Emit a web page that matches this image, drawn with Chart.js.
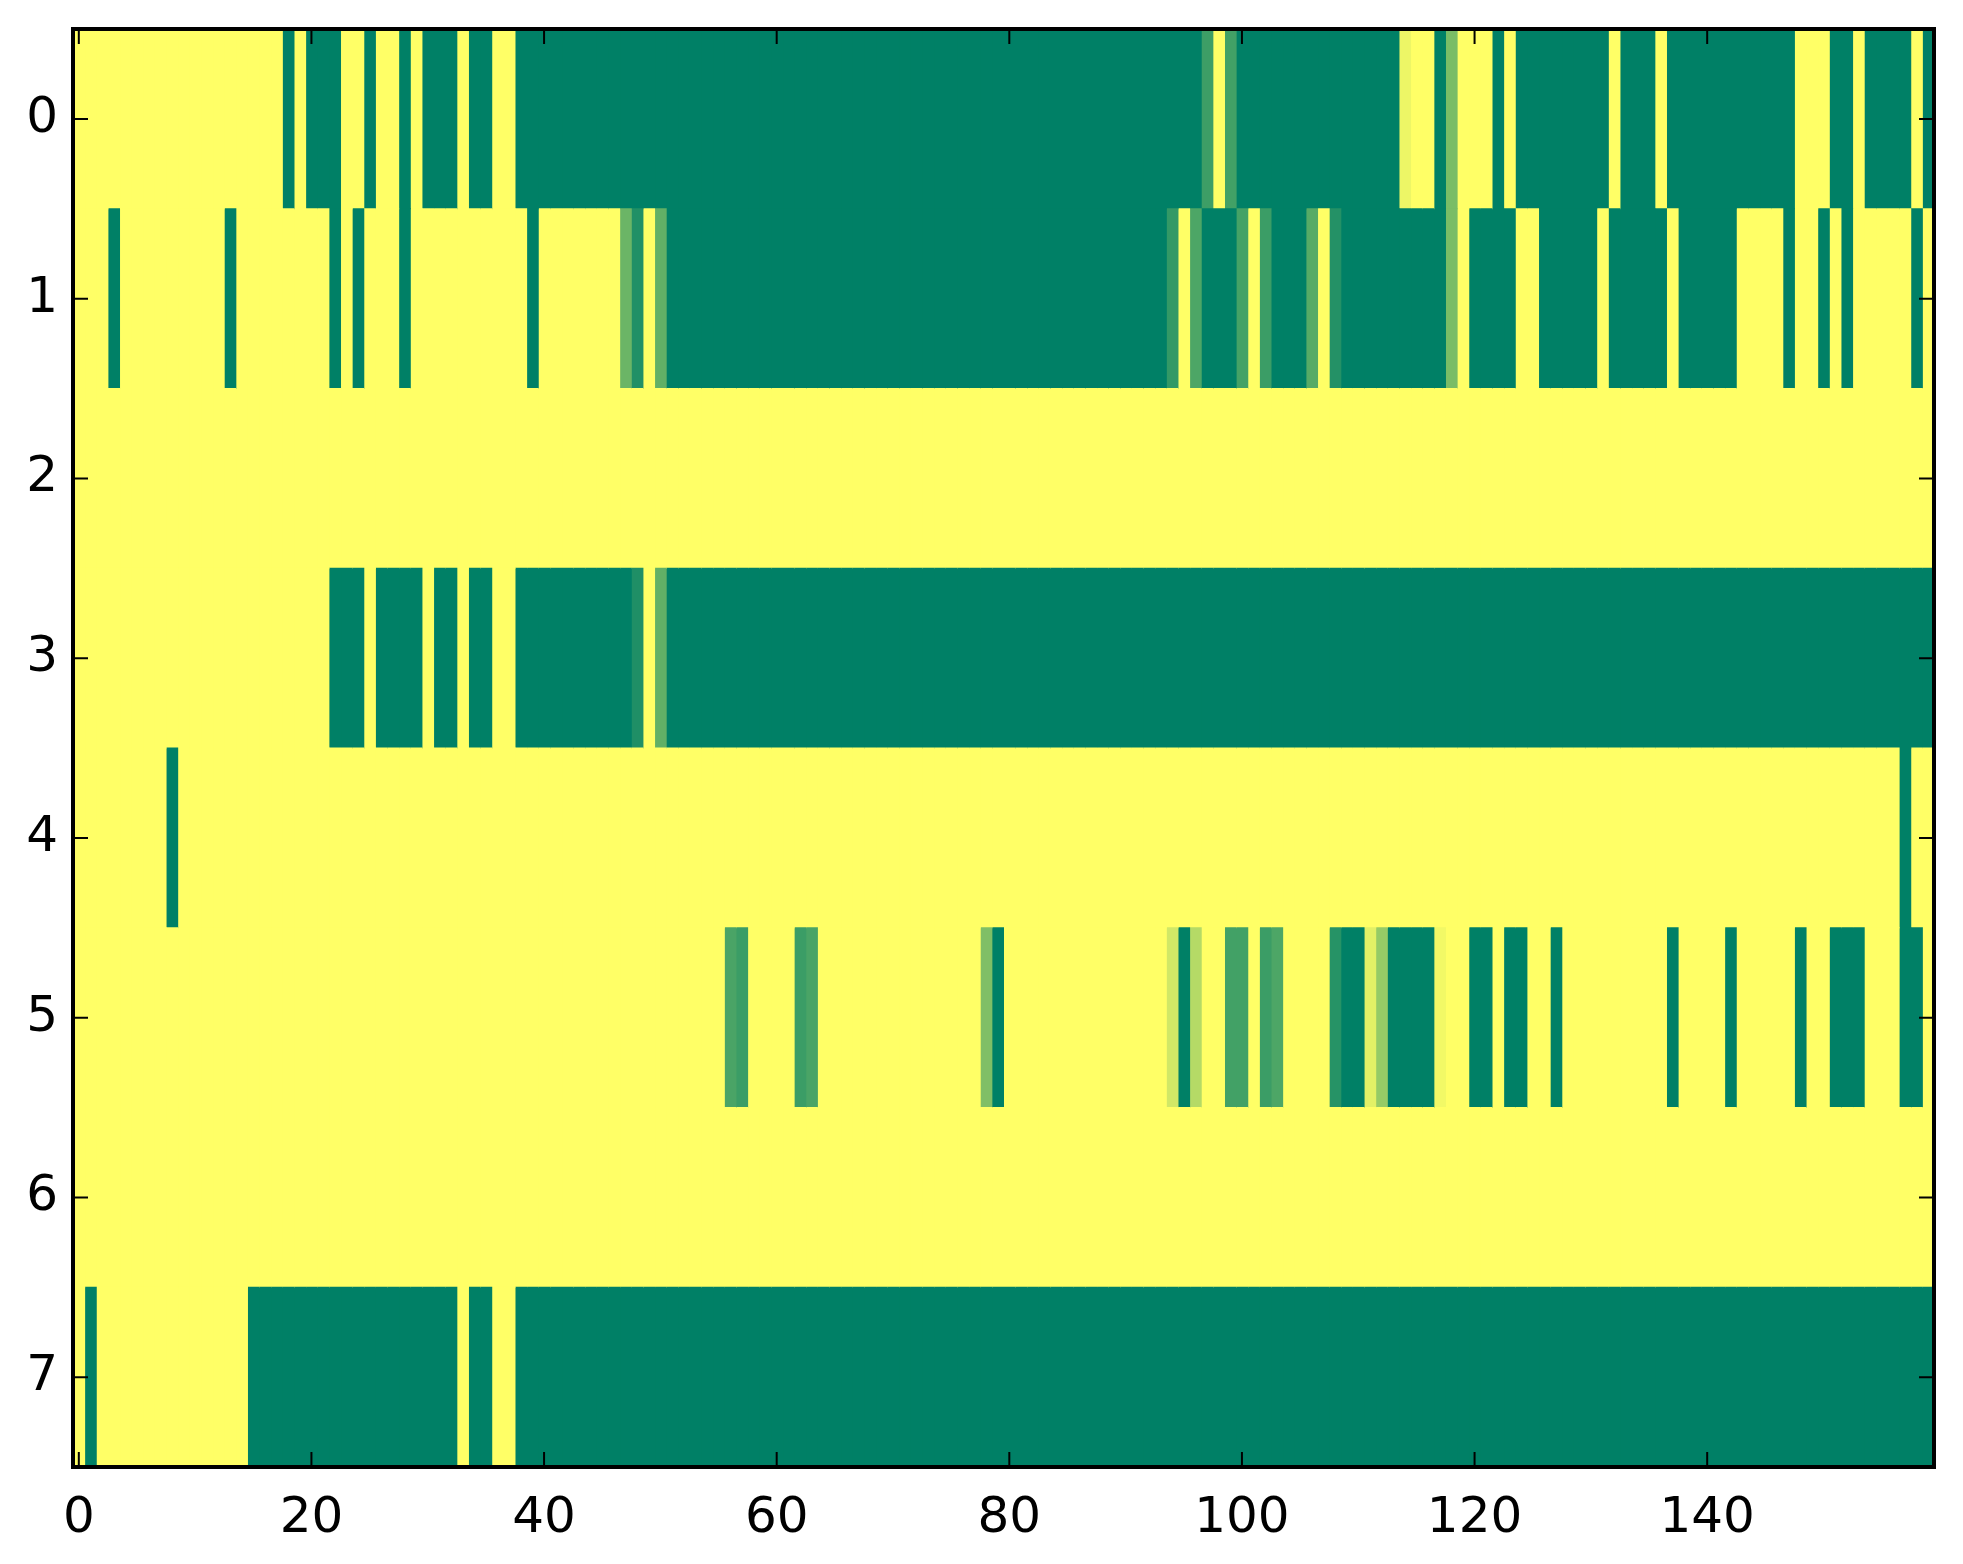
<!DOCTYPE html>
<html>
<head>
<meta charset="utf-8">
<title>Heatmap</title>
<script src="https://cdn.jsdelivr.net/npm/chart.js@4.4.1/dist/chart.umd.min.js"></script>
<style>
  html, body { margin: 0; padding: 0; background: #fff; }
  #wrap { width: 1963px; height: 1564px; }
</style>
</head>
<body>
<div id="wrap"><canvas id="heat" width="1963" height="1564"></canvas></div>
<script>
/* ── DATA: one array per row, 160 cells each (1 = yellow, 0 = green) ── */
const rowLabels = ['0', '1', '2', '3', '4', '5', '6', '7'];
const xTicks    = [0, 20, 40, 60, 80, 100, 120, 140];

const row0 = [
  1,1,1,1,1,1,1,1,1,1,1,1,1,1,1,1,1,1,0,1,
  0,0,0,1,1,0,1,1,0,1,0,0,0,1,0,0,1,1,0,0,
  0,0,0,0,0,0,0,0,0,0,0,0,0,0,0,0,0,0,0,0,
  0,0,0,0,0,0,0,0,0,0,0,0,0,0,0,0,0,0,0,0,
  0,0,0,0,0,0,0,0,0,0,0,0,0,0,0,0,0,0.24,1,0.26,
  0,0,0,0,0,0,0,0,0,0,0,0,0,0,0.93,1,1,0,0.48,1,
  1,1,0,1,0,0,0,0,0,0,0,0,1,0,0,0,1,0,0,0,
  0,0,0,0,0,0,0,0,1,1,1,0,0,1,0,0,0,0,1,0,
];
const row1 = [
  1,1,1,0,1,1,1,1,1,1,1,1,1,0,1,1,1,1,1,1,
  1,1,0,1,0,1,1,1,0,1,1,1,1,1,1,1,1,1,1,0,
  1,1,1,1,1,1,1,0.42,0.13,1,0.38,0,0,0,0,0,0,0,0,0,
  0,0,0,0,0,0,0,0,0,0,0,0,0,0,0,0,0,0,0,0,
  0,0,0,0,0,0,0,0,0,0,0,0,0,0,0.2,1,0.3,0,0,0,
  0.27,1,0.23,0,0,0,0.34,1,0.14,0,0,0,0,0,0,0,0,0,0.48,1,
  0,0,0,0,1,1,0,0,0,0,0,1,0,0,0,0,0,1,0,0,
  0,0,0,1,1,1,1,0,1,1,0,1,0,1,1,1,1,1,0,1,
];
const row2 = [
  1,1,1,1,1,1,1,1,1,1,1,1,1,1,1,1,1,1,1,1,
  1,1,1,1,1,1,1,1,1,1,1,1,1,1,1,1,1,1,1,1,
  1,1,1,1,1,1,1,1,1,1,1,1,1,1,1,1,1,1,1,1,
  1,1,1,1,1,1,1,1,1,1,1,1,1,1,1,1,1,1,1,1,
  1,1,1,1,1,1,1,1,1,1,1,1,1,1,1,1,1,1,1,1,
  1,1,1,1,1,1,1,1,1,1,1,1,1,1,1,1,1,1,1,1,
  1,1,1,1,1,1,1,1,1,1,1,1,1,1,1,1,1,1,1,1,
  1,1,1,1,1,1,1,1,1,1,1,1,1,1,1,1,1,1,1,1,
];
const row3 = [
  1,1,1,1,1,1,1,1,1,1,1,1,1,1,1,1,1,1,1,1,
  1,1,0,0,0,1,0,0,0,0,1,0,0,1,0,0,1,1,0,0,
  0,0,0,0,0,0,0,0,0.12,1,0.38,0,0,0,0,0,0,0,0,0,
  0,0,0,0,0,0,0,0,0,0,0,0,0,0,0,0,0,0,0,0,
  0,0,0,0,0,0,0,0,0,0,0,0,0,0,0,0,0,0,0,0,
  0,0,0,0,0,0,0,0,0,0,0,0,0,0,0,0,0,0,0,0,
  0,0,0,0,0,0,0,0,0,0,0,0,0,0,0,0,0,0,0,0,
  0,0,0,0,0,0,0,0,0,0,0,0,0,0,0,0,0,0,0,0,
];
const row4 = [
  1,1,1,1,1,1,1,1,0,1,1,1,1,1,1,1,1,1,1,1,
  1,1,1,1,1,1,1,1,1,1,1,1,1,1,1,1,1,1,1,1,
  1,1,1,1,1,1,1,1,1,1,1,1,1,1,1,1,1,1,1,1,
  1,1,1,1,1,1,1,1,1,1,1,1,1,1,1,1,1,1,1,1,
  1,1,1,1,1,1,1,1,1,1,1,1,1,1,1,1,1,1,1,1,
  1,1,1,1,1,1,1,1,1,1,1,1,1,1,1,1,1,1,1,1,
  1,1,1,1,1,1,1,1,1,1,1,1,1,1,1,1,1,1,1,1,
  1,1,1,1,1,1,1,1,1,1,1,1,1,1,1,1,1,0,1,1,
];
const row5 = [
  1,1,1,1,1,1,1,1,1,1,1,1,1,1,1,1,1,1,1,1,
  1,1,1,1,1,1,1,1,1,1,1,1,1,1,1,1,1,1,1,1,
  1,1,1,1,1,1,1,1,1,1,1,1,1,1,1,1,0.29,0.23,1,1,
  1,1,0.23,0.29,1,1,1,1,1,1,1,1,1,1,1,1,1,1,0.5,0,
  1,1,1,1,1,1,1,1,1,1,1,1,1,1,0.82,0,0.71,1,1,0.26,
  0.26,1,0.23,0.3,1,1,1,1,0.15,0,0,0.89,0.59,0,0,0,0,0.95,1,1,
  0,0,1,0,0,1,1,0,1,1,1,1,1,1,1,1,1,0,1,1,
  1,1,0,1,1,1,1,1,0,1,1,0,0,0,1,1,1,0,0,1,
];
const row6 = [
  1,1,1,1,1,1,1,1,1,1,1,1,1,1,1,1,1,1,1,1,
  1,1,1,1,1,1,1,1,1,1,1,1,1,1,1,1,1,1,1,1,
  1,1,1,1,1,1,1,1,1,1,1,1,1,1,1,1,1,1,1,1,
  1,1,1,1,1,1,1,1,1,1,1,1,1,1,1,1,1,1,1,1,
  1,1,1,1,1,1,1,1,1,1,1,1,1,1,1,1,1,1,1,1,
  1,1,1,1,1,1,1,1,1,1,1,1,1,1,1,1,1,1,1,1,
  1,1,1,1,1,1,1,1,1,1,1,1,1,1,1,1,1,1,1,1,
  1,1,1,1,1,1,1,1,1,1,1,1,1,1,1,1,1,1,1,1,
];
const row7 = [
  1,0,1,1,1,1,1,1,1,1,1,1,1,1,1,0,0,0,0,0,
  0,0,0,0,0,0,0,0,0,0,0,0,0,1,0,0,1,1,0,0,
  0,0,0,0,0,0,0,0,0,0,0,0,0,0,0,0,0,0,0,0,
  0,0,0,0,0,0,0,0,0,0,0,0,0,0,0,0,0,0,0,0,
  0,0,0,0,0,0,0,0,0,0,0,0,0,0,0,0,0,0,0,0,
  0,0,0,0,0,0,0,0,0,0,0,0,0,0,0,0,0,0,0,0,
  0,0,0,0,0,0,0,0,0,0,0,0,0,0,0,0,0,0,0,0,
  0,0,0,0,0,0,0,0,0,0,0,0,0,0,0,0,0,0,0,0,
];

const rows  = [row0, row1, row2, row3, row4, row5, row6, row7];
const nCols = row0.length;

/* matplotlib "summer" colormap: (t, 0.5 + t/2, 0.4) */
function summer(t) {
  const r = Math.round(255 * t);
  const g = Math.round(255 * (0.5 + 0.5 * t));
  return `rgb(${r},${g},102)`;
}

// One floating-bar dataset per column; each row is one cell of that column
const datasets = [];
for (let c = 0; c < nCols; c++) {
  datasets.push({
    data: rows.map(() => [c - 0.5, c + 0.5]),
    backgroundColor: rows.map(r => summer(r[c])),
  });
}

/* ── frame + inward ticks on all four sides (matplotlib classic look) ── */
const framePlugin = {
  id: 'frame',
  afterDatasetsDraw(chart) {
    const { ctx, chartArea: a, scales: { x, y } } = chart;
    const len = 15;
    ctx.save();
    ctx.strokeStyle = '#000';
    ctx.lineWidth = 2;
    ctx.beginPath();
    xTicks.forEach(v => {
      const px = x.getPixelForValue(v);
      ctx.moveTo(px, a.bottom); ctx.lineTo(px, a.bottom - len);
      ctx.moveTo(px, a.top);    ctx.lineTo(px, a.top + len);
    });
    rowLabels.forEach((_, i) => {
      const py = y.getPixelForValue(i);
      ctx.moveTo(a.left, py);  ctx.lineTo(a.left + len, py);
      ctx.moveTo(a.right, py); ctx.lineTo(a.right - len, py);
    });
    ctx.stroke();
    ctx.lineWidth = 4;
    ctx.strokeRect(a.left, a.top, a.right - a.left, a.bottom - a.top);
    ctx.restore();
  },
};

// Fixed axis boxes so the plot area lands where the reference has it
function fitBox(ax, size) {
  if (ax.isHorizontal()) ax.height = size; else ax.width = size;
  ax.paddingTop = ax.paddingBottom = ax.paddingLeft = ax.paddingRight = 0;
}

Chart.defaults.font.family = "'DejaVu Sans', sans-serif";

new Chart(document.getElementById('heat'), {
  type: 'bar',
  data: { labels: rowLabels, datasets },
  options: {
    indexAxis: 'y',
    responsive: false,
    animation: false,
    devicePixelRatio: 1,
    layout: { padding: { top: 29, right: 29, left: 0, bottom: 0 } },
    datasets: {
      bar: {
        grouped: false,
        barPercentage: 1,
        categoryPercentage: 1,
        borderWidth: 0,
        inflateAmount: 0.5,
      },
    },
    plugins: { legend: { display: false }, tooltip: { enabled: false } },
    scales: {
      x: {
        type: 'linear',
        min: -0.5,
        max: 159.5,
        grid: { display: false },
        border: { display: false },
        afterBuildTicks: ax => { ax.ticks = xTicks.map(v => ({ value: v })); },
        afterFit: ax => fitBox(ax, 97),
        ticks: { color: '#000', font: { size: 50 }, padding: 14, maxRotation: 0, autoSkip: false },
      },
      y: {
        type: 'category',
        grid: { display: false },
        border: { display: false },
        afterFit: ax => fitBox(ax, 73),
        ticks: { color: '#000', font: { size: 50 }, padding: 7 },
      },
    },
  },
  plugins: [framePlugin],
});
</script>
</body>
</html>
